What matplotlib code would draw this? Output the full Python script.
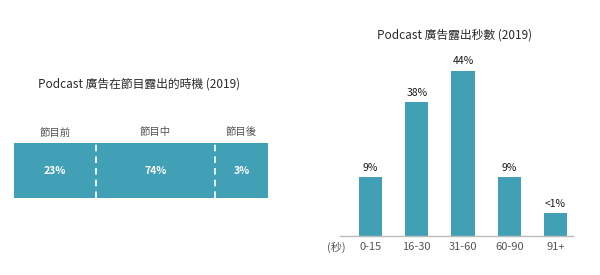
import numpy as np
import matplotlib.pyplot as plt

plt.rcParams['font.family'] = ['Noto Sans CJK TC', 'DejaVu Sans']

teal = '#41a0b5'

# left chart: timing of ads within the show
timing_labels = ['節目前', '節目中', '節目後']
timing_values = ['23%', '74%', '3%']
timing_widths = [82, 119, 53]  # drawn segment widths

# right chart: ad length in seconds
length_cats = ['0-15', '16-30', '31-60', '60-90', '91+']
length_labels = ['9%', '38%', '44%', '9%', '<1%']
length_heights = [15.7, 35.7, 44, 15.7, 6.1]  # drawn bar heights

fig = plt.figure(figsize=(6, 2.75), dpi=100)
W, H = 600, 275

# ---- left: stacked horizontal bar
ax1 = fig.add_axes([14 / W, (H - 198) / H, 254 / W, 55 / H])
lefts = np.concatenate([[0], np.cumsum(timing_widths)[:-1]])
ax1.barh(0, timing_widths, left=lefts, height=1, color=teal)
ax1.set_xlim(0, sum(timing_widths))
ax1.set_ylim(-0.5, 0.5)
for b in lefts[1:]:
    ax1.plot([b, b], [-0.5, 0.5], color='white', lw=1.2, ls=(0, (4, 3)))
for l, w, lab, val in zip(lefts, timing_widths, timing_labels, timing_values):
    c = l + w / 2
    ax1.text(c, 0, val, color='white', ha='center', va='center', fontsize=7.5, fontweight='bold')
    ax1.text(c, 0.6, lab, color='#555555', ha='center', va='bottom', fontsize=7.5)
ax1.axis('off')
fig.text(139 / W, 1 - 84 / H, 'Podcast 廣告在節目露出的時機 (2019)', ha='center', va='center',
         fontsize=8.5, color='#2b2b2b', fontweight='medium')

# ---- right: column chart
ax2 = fig.add_axes([340 / W, (H - 236) / H, 233 / W, 187.5 / H])
x = np.arange(len(length_cats))
ax2.bar(x, length_heights, width=0.5, color=teal)
ax2.set_xlim(-0.66, 4.38)
ax2.set_ylim(0, 50)
for xi, h, lab in zip(x, length_heights, length_labels):
    ax2.text(xi, h + 1.2, lab, ha='center', va='bottom', fontsize=7.5, color='#1a1a1a',
             fontweight='medium')
ax2.set_xticks(x)
ax2.set_xticklabels(length_cats, fontsize=8, color='#555555')
ax2.tick_params(axis='x', length=0, pad=4)
ax2.set_yticks([])
for s in ['top', 'right', 'left']:
    ax2.spines[s].set_visible(False)
ax2.spines['bottom'].set_color('#bbbbbb')
ax2.spines['bottom'].set_linewidth(1)
fig.text(336 / W, 1 - 247 / H, '(秒)', ha='center', va='center', fontsize=8, color='#555555')
fig.text(455 / W, 1 - 35 / H, 'Podcast 廣告露出秒數 (2019)', ha='center', va='center',
         fontsize=8.5, color='#2b2b2b', fontweight='medium')

fig.savefig('out.png', dpi=100, facecolor='white')
